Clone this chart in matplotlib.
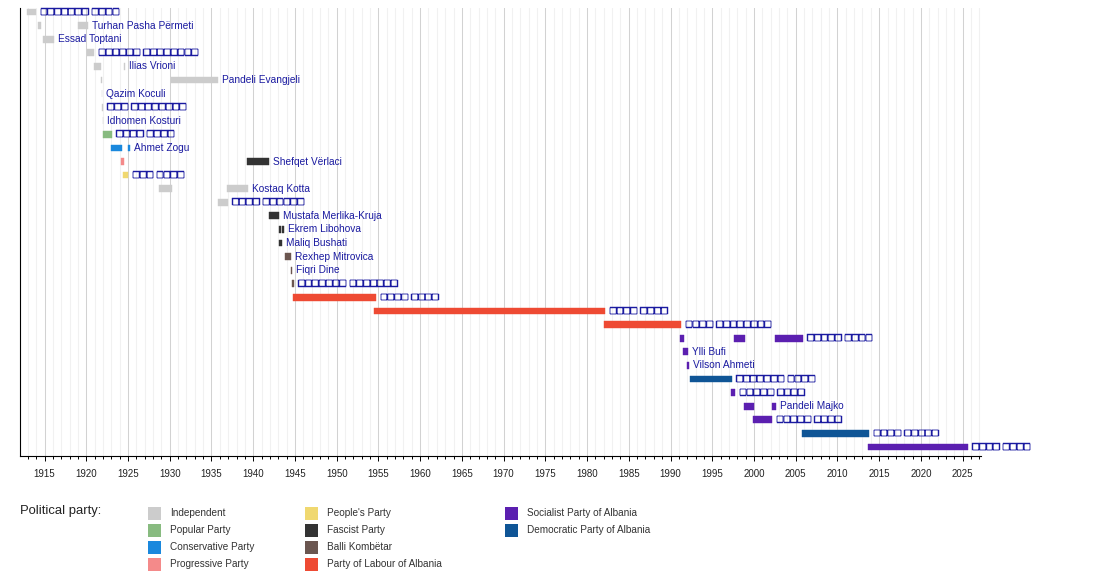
import matplotlib
matplotlib.use('Agg')
import matplotlib.pyplot as plt
import matplotlib.patheffects as pe
from matplotlib.patches import Rectangle
from matplotlib.ticker import MultipleLocator

W, H = 1100, 578
plt.rcParams['font.family'] = ['Liberation Sans', 'DejaVu Sans']

# ---------------- data ----------------
names = [
    "□□□□□□□ □□□□", "Turhan Pasha Përmeti", "Essad Toptani", "□□□□□□ □□□□□□□□",
    "Ilias Vrioni", "Pandeli Evangjeli", "Qazim Koculi", "□□□ □□□□□□□□",
    "Idhomen Kosturi", "□□□□ □□□□", "Ahmet Zogu", "Shefqet Vërlaci",
    "□□□ □□□□", "Kostaq Kotta", "□□□□ □□□□□□", "Mustafa Merlika-Kruja",
    "Ekrem Libohova", "Maliq Bushati", "Rexhep Mitrovica", "Fiqri Dine",
    "□□□□□□□ □□□□□□□", "□□□□ □□□□", "□□□□ □□□□", "□□□□ □□□□□□□□",
    "□□□□□ □□□□", "Ylli Bufi", "Vilson Ahmeti", "□□□□□□□ □□□□",
    "□□□□□ □□□□", "Pandeli Majko", "□□□□□ □□□□", "□□□□ □□□□□",
    "□□□□ □□□□",
]

parties = ["Independent", "Popular Party", "Conservative Party", "Progressive Party",
           "People's Party", "Fascist Party", "Balli Kombëtar", "Party of Labour of Albania",
           "Socialist Party of Albania", "Democratic Party of Albania"]
party_colors = ["#cccccc", "#88bb80", "#1a88dd", "#f48a8a", "#f0d870",
                "#333333", "#6b5650", "#ee4a33", "#5b1fb0", "#0f5596"]

seg_row = [0, 1, 1, 2, 3, 4, 4, 5, 5, 6, 7, 8, 9, 10, 10, 11, 11, 12, 13, 13, 14,
           15, 16, 16, 17, 18, 19, 20, 21, 22, 23, 24, 24, 24, 25, 26, 27, 28,
           29, 29, 30, 31, 32]
seg_start = [1912.86, 1914.25, 1919.05, 1914.85, 1920.05, 1920.96, 1924.52, 1921.77,
             1930.16, 1921.85, 1921.92, 1921.95, 1922.04, 1922.96, 1925.04, 1924.13,
             1939.22, 1924.36, 1928.72, 1936.82, 1935.82, 1941.90, 1943.10, 1943.45,
             1943.10, 1943.82, 1944.53, 1944.69, 1944.73, 1954.52, 1982.04, 1991.15,
             1997.62, 2002.53, 1991.47, 1991.95, 1992.35, 1997.26, 1998.85, 2002.21,
             1999.90, 2005.77, 2013.64]
seg_end = [1913.98, 1914.58, 1920.24, 1916.17, 1920.96, 1921.77, 1924.68, 1921.89,
           1935.82, 1921.92, 1922.00, 1922.02, 1923.05, 1924.24, 1925.20, 1924.49,
           1941.93, 1925.04, 1930.24, 1939.34, 1936.94, 1943.10, 1943.30, 1943.73,
           1943.42, 1944.54, 1944.69, 1944.85, 1954.72, 1982.17, 1991.27, 1991.63,
           1998.94, 2005.85, 1992.10, 1992.27, 1997.34, 1997.74, 2000.02, 2002.65,
           2002.17, 2013.80, 2025.62]
seg_party = [0, 0, 0, 0, 0, 0, 0, 0, 0, 0, 0, 0, 1, 2, 2, 3, 5, 4, 0, 0, 0,
             5, 5, 5, 5, 6, 6, 6, 7, 7, 7, 8, 8, 8, 8, 8, 9, 8, 8, 8, 8, 9, 8]

x_min, x_max = 1912.06, 2027.2
label_color = '#1a1aa0'

# ---------------- figure ----------------
fig = plt.figure(figsize=(W / 100, H / 100), dpi=100)
ax = fig.add_axes([20 / W, 1 - 456 / H, (981 - 20) / W, (456 - 8) / H])

ax.set_xlim(x_min, x_max)
ax.set_ylim(32.66, -0.29)

ax.xaxis.set_major_locator(MultipleLocator(5))
ax.xaxis.set_minor_locator(MultipleLocator(1))
ax.grid(which='major', axis='x', color='#d2d2d2', linewidth=0.75)
ax.grid(which='minor', axis='x', color='#f1f1f1', linewidth=0.75)
ax.set_axisbelow(True)
ax.set_yticks([])

for s in ['top', 'right']:
    ax.spines[s].set_visible(False)
for s in ['left', 'bottom']:
    ax.spines[s].set_color('black')
    ax.spines[s].set_linewidth(0.8)

ax.tick_params(axis='x', which='major', length=3.6, width=0.7, color='black',
               labelsize=7.0, labelcolor='#222222', pad=5.5)
ax.tick_params(axis='x', which='minor', length=2.4, width=0.7, color='black')

widths = [e - s for s, e in zip(seg_start, seg_end)]
cols = [party_colors[p] for p in seg_party]
ax.barh(seg_row, widths, left=seg_start, height=0.5, color=cols,
        edgecolor=cols, linewidth=0.3, zorder=3)

for i, nm in enumerate(names):
    end = max(e for r, e in zip(seg_row, seg_end) if r == i)
    boxes = set(nm) <= {"□", " "}
    t = ax.annotate(nm, (end, i), xytext=(4.5 if boxes else 4, 0),
                    textcoords='offset pixels', va='center', ha='left',
                    fontsize=8.2 if boxes else 7.3,
                    color=label_color, annotation_clip=False, zorder=4)
    if boxes:
        t.set_path_effects([pe.withStroke(linewidth=0.3, foreground=label_color)])

# ---------------- legend ----------------
fig.text(20 / W, 1 - 511 / H, "Political party:", fontsize=9.4, va='center',
         ha='left', color='#222222')
col_x = [148, 305, 505]
for i, (p, c) in enumerate(zip(parties, party_colors)):
    col, row = i // 4, i % 4
    sx = col_x[col]
    sy = 513 + 17 * row
    fig.add_artist(Rectangle((sx / W, 1 - (sy + 6.5) / H), 13 / W, 13 / H,
                             transform=fig.transFigure, facecolor=c, edgecolor='none'))
    fig.text((sx + 22) / W, 1 - sy / H, p, fontsize=7.2, va='center', ha='left',
             color='#333333')

fig.savefig('out.png', dpi=100)
